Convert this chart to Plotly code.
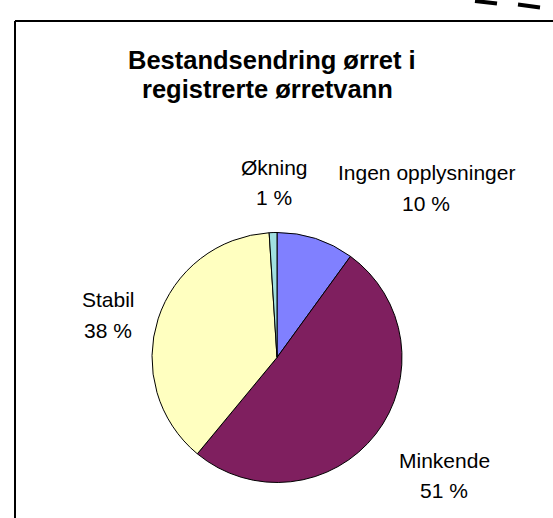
import plotly.graph_objects as go

# ---- data ----
categories = ["Ingen opplysninger", "Minkende", "Stabil", "Økning"]
values = [10, 51, 38, 1]
colors = ["#8080FF", "#7F1F5F", "#FFFFC0", "#A0E0E0"]
title_lines = ["Bestandsendring ørret i", "registrerte ørretvann"]

W, H = 553, 518


def px(x):
    return x / W


def py(y):
    return 1 - y / H


# pie geometry in pixels
cx, cy, r = 277, 357.5, 125

fig = go.Figure(
    go.Pie(
        labels=categories,
        values=values,
        sort=False,
        direction="clockwise",
        rotation=0,
        marker=dict(colors=colors, line=dict(color="black", width=1)),
        textinfo="none",
        hoverinfo="label+percent",
        showlegend=False,
        domain=dict(x=[px(cx - r), px(cx + r)], y=[py(cy + r), py(cy - r)]),
    )
)

total = sum(values)
pct = [f"{round(v / total * 100)} %" for v in values]

# label placement (center x, baseline y of name line, baseline y of pct line)
label_pos = {
    "Ingen opplysninger": (426, 180, 211),
    "Minkende": (444, 468, 498),
    "Stabil": (108, 307, 338),
    "Økning": (274, 175, 205),
}

annotations = []
font_lbl = dict(family="Liberation Sans, Arial, sans-serif", size=21, color="black")
for cat, p in zip(categories, pct):
    x, b1, b2 = label_pos[cat]
    for txt, b in ((cat, b1), (p, b2)):
        annotations.append(dict(
            x=px(x), y=py(b - 7.5), xref="paper", yref="paper",
            text=txt, showarrow=False, xanchor="center", yanchor="middle",
            font=font_lbl,
        ))

font_title = dict(family="Liberation Sans, Arial, sans-serif", size=25.5, color="black")
for txt, (x, b) in zip(title_lines, [(271.5, 69), (267.5, 98)]):
    annotations.append(dict(
        x=px(x), y=py(b - 9), xref="paper", yref="paper",
        text=f"<b>{txt}</b>", showarrow=False, xanchor="center", yanchor="middle",
        font=font_title,
    ))

shapes = [
    # frame (left and top borders)
    dict(type="line", xref="paper", yref="paper", x0=px(15), y0=py(21), x1=px(W + 5), y1=py(21),
         line=dict(color="black", width=2)),
    dict(type="line", xref="paper", yref="paper", x0=px(15), y0=py(21), x1=px(15), y1=py(H + 5),
         line=dict(color="black", width=2)),
    # dashes top right
    dict(type="line", xref="paper", yref="paper", x0=px(475), y0=py(1), x1=px(497), y1=py(3.5),
         line=dict(color="black", width=4)),
    dict(type="line", xref="paper", yref="paper", x0=px(518), y0=py(4.5), x1=px(540), y1=py(7.5),
         line=dict(color="black", width=4)),
]

fig.update_layout(
    width=W, height=H,
    margin=dict(l=0, r=0, t=0, b=0, pad=0),
    paper_bgcolor="white", plot_bgcolor="white",
    annotations=annotations,
    shapes=shapes,
)

fig.write_html(
    "out.html",
    config={"displayModeBar": False},
    post_script="document.body.style.margin='0';document.body.style.overflow='hidden';",
)
